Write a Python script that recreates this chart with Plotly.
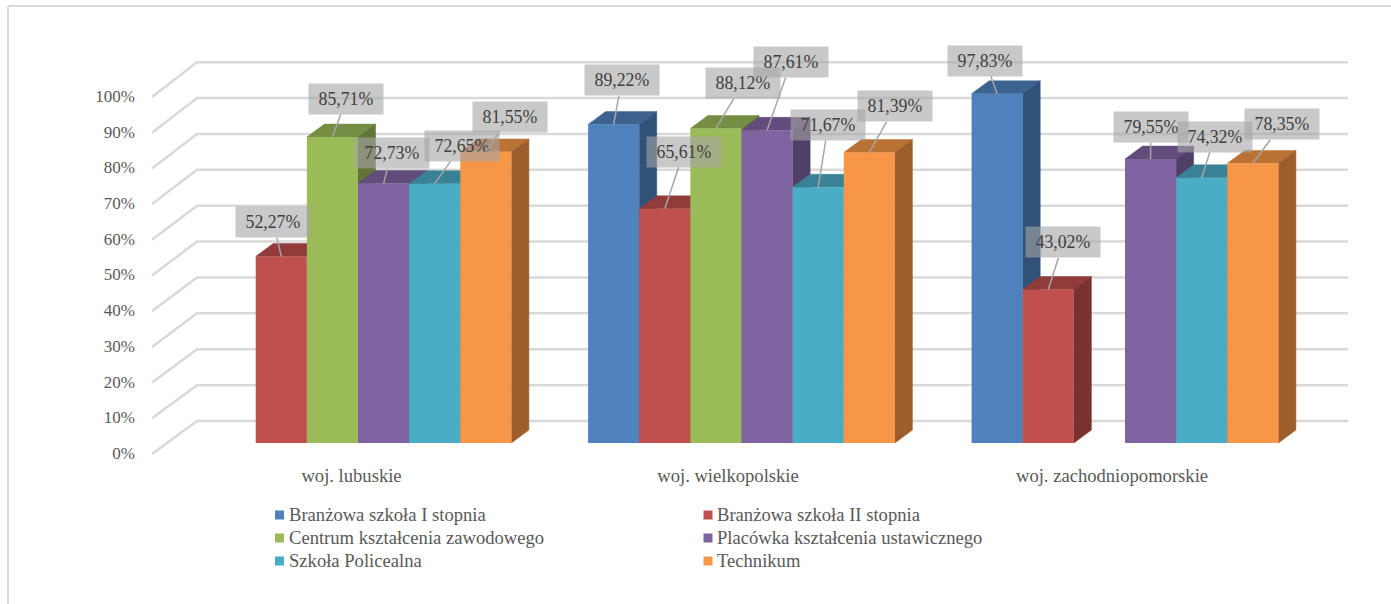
import plotly.graph_objects as go

# ---- data ----
categories = ["woj. lubuskie", "woj. wielkopolskie", "woj. zachodniopomorskie"]
branzowa_1 = [None, 89.22, 97.83]
branzowa_2 = [52.27, 65.61, 43.02]
centrum = [85.71, 88.12, None]
placowka = [72.73, 87.61, 79.55]
policealna = [72.65, 71.67, 74.32]
technikum = [81.55, 81.39, 78.35]
series_names = ["Branżowa szkoła I stopnia", "Branżowa szkoła II stopnia",
                "Centrum kształcenia zawodowego", "Placówka kształcenia ustawicznego",
                "Szkoła Policealna", "Technikum"]
series_values = [branzowa_1, branzowa_2, centrum, placowka, policealna, technikum]
colors = ["#4F81BD", "#C0504D", "#9BBB59", "#8064A2", "#4BACC6", "#F79646"]
percent_ticks = [0, 10, 20, 30, 40, 50, 60, 70, 80, 90, 100]

# ---- layout constants (pixels of the 1391x604 page) ----
W, H = 1391, 604
X0_PX, X_UNIT = 358.0, 383.5     # group 0 centre, px per group
Y0_PX, Y_UNIT = 443.0, 3.57      # bar base, px per percent
BAR_W = 0.8 / 6
DX = 17.5 / X_UNIT               # depth of a bar
DY = 12.9 / Y_UNIT
def px2x(p): return (p - X0_PX) / X_UNIT
def px2y(p): return (Y0_PX - p) / Y_UNIT
XR = [px2x(0), px2x(W)]
YR = [px2y(H), px2y(0)]
FONT = "Liberation Serif"
TXT = "#595959"
GRID = "#D9D9D9"

# leader offsets (px) from bar top to label centre, per series per group
label_offsets = [
    [None, (8, -44), (-12, -33)],
    [(-8, -34), (19, -57), (15, -47)],
    [(14, -38), (27, -45), None],
    [(8, -30), (24, -68), (0, -32)],
    [(27, -38), (10, -62), (13, -41)],
    [(24, -35), (26, -46), (29, -39)],
]
category_tick_px = [351.5, 728, 1112]
legend_cols = [(279.5, 289), (708, 717)]
legend_rows = [515, 538, 561]


def shade(hex_color, k):
    r, g, b = (int(hex_color[i:i + 2], 16) for i in (1, 3, 5))
    return f"rgb({int(r * k)},{int(g * k)},{int(b * k)})"


fig = go.Figure()

# back wall and floor-to-wall gridlines
gx, gy = [], []
for v in percent_ticks:
    gx += [px2x(152), px2x(197), px2x(1348), None]
    gy += [v - 3.08, v * 1.005 + 6.16, v * 1.005 + 6.16, None]
fig.add_trace(go.Scatter(x=gx, y=gy, mode="lines", line=dict(color=GRID, width=2.5),
                         hoverinfo="skip", showlegend=False))

# top and side faces of every bar, drawn from left to right
for s, (vals, col) in enumerate(zip(series_values, colors)):
    tx, ty, sx, sy = [], [], [], []
    for g, v in enumerate(vals):
        if v is None:
            continue
        l = g + (s - 3) * BAR_W
        r = l + BAR_W
        tx += [l, l + DX, r + DX, r, l, None]
        ty += [v, v + DY, v + DY, v, v, None]
        sx += [r, r + DX, r + DX, r, r, None]
        sy += [v, v + DY, DY, 0, v, None]
    fig.add_trace(go.Scatter(x=tx, y=ty, mode="lines", fill="toself", fillcolor=shade(col, 0.76),
                             line=dict(color=shade(col, 0.76), width=0.5),
                             hoverinfo="skip", showlegend=False))
    fig.add_trace(go.Scatter(x=sx, y=sy, mode="lines", fill="toself", fillcolor=shade(col, 0.63),
                             line=dict(color=shade(col, 0.63), width=0.5),
                             hoverinfo="skip", showlegend=False))

# front faces: real bars on an overlaying subplot
for name, vals, col in zip(series_names, series_values, colors):
    fig.add_trace(go.Bar(x=[0, 1, 2], y=vals, name=name, marker=dict(color=col, line=dict(width=0)),
                         xaxis="x2", yaxis="y2", showlegend=False))

# legend
for i, (name, col) in enumerate(zip(series_names, colors)):
    sw, tx_start = legend_cols[i % 2]
    row = legend_rows[i // 2]
    fig.add_trace(go.Scatter(x=[px2x(sw), px2x(tx_start)], y=[px2y(row), px2y(row + 1)], mode="markers+text",
                             text=["", name], textposition="middle right",
                             marker=dict(symbol="square", size=[10, 0], color=col, opacity=1),
                             textfont=dict(family=FONT, size=18.6, color=TXT),
                             cliponaxis=False, hoverinfo="skip", showlegend=False,
                             xaxis="x2", yaxis="y2"))

annotations = []
for s, vals in enumerate(series_values):
    for g, v in enumerate(vals):
        if v is None:
            continue
        ax, ay = label_offsets[s][g]
        annotations.append(dict(
            x=g + (s - 2.5) * BAR_W, y=v, xref="x2", yref="y2",
            text=f"{v:.2f}%".replace(".", ","),
            showarrow=True, arrowhead=0, arrowwidth=1.5, arrowcolor="#A6A6A6",
            standoff=0, ax=ax, ay=ay, width=74, height=30, borderpad=0,
            bgcolor="rgba(165,165,165,0.6)",
            font=dict(family=FONT, size=17.8, color="#404040")))

shapes = [
    dict(type="line", xref="paper", yref="paper", x0=8 / W, x1=8 / W, y0=0, y1=1 - 6 / H,
         line=dict(color=GRID, width=2)),
    dict(type="line", xref="paper", yref="paper", x0=8 / W, x1=1, y0=1 - 6 / H, y1=1 - 6 / H,
         line=dict(color=GRID, width=2)),
]

fig.update_layout(
    width=W, height=H, margin=dict(l=0, r=0, t=0, b=0, pad=0),
    paper_bgcolor="white", plot_bgcolor="rgba(0,0,0,0)",
    barmode="group", bargap=0.2, bargroupgap=0, showlegend=False,
    annotations=annotations, shapes=shapes,
    font=dict(family=FONT, size=16, color=TXT),
    xaxis=dict(range=XR, domain=[0, 1], anchor="free", position=1 - 462 / H,
               tickvals=[px2x(p) for p in category_tick_px], ticktext=categories,
               tickfont=dict(family=FONT, size=18.6, color=TXT),
               showgrid=False, zeroline=False, showline=False, ticks=""),
    yaxis=dict(range=YR, domain=[0, 1], anchor="free", position=135 / W,
               tickvals=[v - 2.8 for v in percent_ticks], ticktext=[f"{v}%" for v in percent_ticks],
               tickfont=dict(family=FONT, size=17, color=TXT),
               showgrid=False, zeroline=False, showline=False, ticks=""),
    xaxis2=dict(range=XR, overlaying="x", anchor="y2", visible=False, domain=[0, 1]),
    yaxis2=dict(range=YR, overlaying="y", anchor="x2", visible=False, domain=[0, 1]),
)

fig.write_html("out.html", post_script="document.body.style.margin='0';",
               config=dict(displayModeBar=False))
